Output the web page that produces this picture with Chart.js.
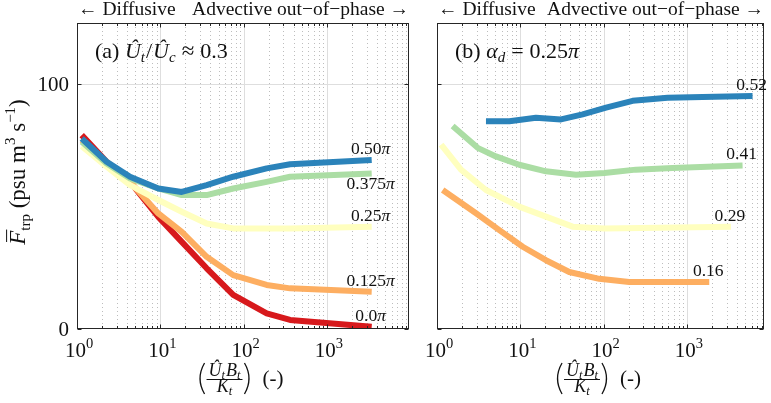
<!DOCTYPE html>
<html><head><meta charset="utf-8">
<script src="https://cdn.jsdelivr.net/npm/chart.js@4"></script>
<style>
html,body{margin:0;padding:0;background:#fff;}
#wrap{position:relative;width:771px;height:403px;background:#fff;}
canvas{position:absolute;left:0;top:0;}
</style></head><body>
<div id="wrap"><canvas id="ca" width="771" height="403"></canvas><canvas id="cb" width="771" height="403"></canvas></div>
<script>
// ---------------- data ----------------
const xDecades = [1, 10, 100, 1000];
const xDecadeExp = ['0', '1', '2', '3'];
const yTicks = [0, 100];

// panel (a): U_t/U_c ~ 0.3, different alpha_d
const xA = [1.14, 2.27, 4.33, 9.46, 18.1, 36, 75, 189, 361, 3445];
const yA_000 = [79.2, 68.3, 60.1, 45.8, 35.6, 24.8, 13.9, 6.4, 3.7, 0.9];
const yA_0125 = [77.1, 68.3, 60.1, 47.2, 39.7, 29.5, 22.0, 18.0, 16.6, 15.2];
const yA_025 = [74.7, 66.3, 58.8, 52.7, 47.9, 43.1, 41.1, 41.1, 41.1, 41.8];
const yA_0375 = [76.5, 67.6, 61.5, 57.4, 54.7, 54.7, 57.4, 60.1, 62.2, 63.5];
const yA_050 = [77.8, 68.3, 62.2, 57.4, 56.0, 58.8, 62.2, 65.6, 67.3, 69.0];
const namesA = ['0.0', '0.125', '0.25', '0.375', '0.50'];

// panel (b): alpha_d = 0.25 pi, different U_t/U_c
const xB_016 = [1.17, 2.94, 5.6, 10.7, 20.3, 38.7, 88.7, 203, 1854];
const yB_016 = [56.8, 47.3, 40.4, 33.6, 28.1, 23.3, 20.5, 19.2, 19.2];
const xB_029 = [1.12, 1.94, 3.87, 9.7, 20.3, 42.5, 102, 3373];
const yB_029 = [75.3, 65.1, 56.8, 50.0, 45.9, 41.8, 41.1, 41.8];
const xB_041 = [1.54, 3.08, 5.1, 9.7, 20.3, 46.6, 102, 244, 673, 4656];
const yB_041 = [82.9, 74.0, 70.5, 67.1, 64.4, 63.0, 63.7, 65.1, 65.8, 66.8];
const xB_052 = [3.87, 7.4, 15.4, 30.8, 56, 107, 223, 586, 1542, 6138];
const yB_052 = [84.9, 84.9, 86.3, 85.6, 87.7, 90.4, 93.2, 94.5, 94.8, 95.2];
const namesB = ['0.16', '0.29', '0.41', '0.52'];

// ---------------- styles ----------------
const C_RED = '#d7191c', C_ORA = '#fdae61', C_YEL = '#ffffbf', C_GRE = '#abdda4', C_BLU = '#2b83ba';
const SERIF = '"Liberation Serif", "Times New Roman", serif';
const AXC = '#262626';

function pts(xs, ys) { return xs.map((x, i) => ({ x: x, y: ys[i] })); }
function ds(xs, ys, color, order, name, italicPi, below) {
  return { data: pts(xs, ys), borderColor: color, backgroundColor: color, order: order,
           fill: false, _name: name, _pi: italicPi, _below: below };
}

function fontOf(s) { return (s.i ? 'italic ' : '') + (s.size || 20) + 'px ' + SERIF; }
function richWidth(ctx, segs) {
  let w = 0;
  for (const s of segs) { ctx.font = fontOf(s); w += ctx.measureText(s.t).width + (s.dx || 0); }
  return w;
}
function drawRich(ctx, segs, x, y, align) {
  const w = richWidth(ctx, segs);
  let cx = align === 'center' ? x - w / 2 : (align === 'right' ? x - w : x);
  ctx.textAlign = 'left';
  ctx.textBaseline = 'alphabetic';
  for (const s of segs) {
    ctx.font = fontOf(s);
    const tw = ctx.measureText(s.t).width;
    cx += (s.dx || 0);
    ctx.fillText(s.t, cx, y + (s.dy || 0));
    if (s.over) {
      const sz = s.size || 20;
      ctx.save(); ctx.lineWidth = 1; ctx.strokeStyle = ctx.fillStyle;
      ctx.beginPath(); ctx.moveTo(cx + sz * 0.12, y - sz * 0.8); ctx.lineTo(cx + tw + sz * 0.05, y - sz * 0.8); ctx.stroke();
      ctx.restore();
    }
    cx += tw;
  }
  return w;
}

function overlay(panel) {
  return {
    id: 'overlay' + panel,
    beforeDatasetsDraw(chart) {
      const ctx = chart.ctx, a = chart.chartArea, xs = chart.scales.x, ys = chart.scales.y;
      ctx.save();
      // minor dotted grid
      ctx.strokeStyle = '#bdbdbd'; ctx.lineWidth = 1; ctx.setLineDash([1, 3]);
      for (const d of xDecades) {
        for (let m = 2; m <= 9; m++) {
          const v = d * m; if (v > xs.max) continue;
          const px = Math.round(xs.getPixelForValue(v)) + 0.5;
          ctx.beginPath(); ctx.moveTo(px, a.top); ctx.lineTo(px, a.bottom); ctx.stroke();
        }
      }
      ctx.setLineDash([]);
      ctx.strokeStyle = '#dedede';
      for (const d of xDecades) {
        if (d <= xs.min) continue;
        const px = Math.round(xs.getPixelForValue(d)) + 0.5;
        ctx.beginPath(); ctx.moveTo(px, a.top); ctx.lineTo(px, a.bottom); ctx.stroke();
      }
      for (const t of yTicks) {
        if (t <= ys.min) continue;
        const py = Math.round(ys.getPixelForValue(t)) + 0.5;
        ctx.beginPath(); ctx.moveTo(a.left, py); ctx.lineTo(a.right, py); ctx.stroke();
      }
      ctx.restore();
    },
    afterDatasetsDraw(chart) {
      const ctx = chart.ctx, a = chart.chartArea, xs = chart.scales.x, ys = chart.scales.y;
      ctx.save();
      // box
      ctx.strokeStyle = AXC; ctx.lineWidth = 1;
      const L = Math.round(a.left) + 0.5, R = Math.round(a.right) - 0.5, T = Math.round(a.top) + 0.5, B = Math.round(a.bottom) - 0.5;
      ctx.strokeRect(L, T, R - L, B - T);
      // ticks (inward)
      ctx.beginPath();
      for (const d of xDecades) {
        for (let m = 1; m <= 9; m++) {
          const v = d * m; if (v > xs.max) continue;
          const px = Math.round(xs.getPixelForValue(v)) + 0.5;
          const len = m === 1 ? 4 : 2.5;
          ctx.moveTo(px, B); ctx.lineTo(px, B - len);
          ctx.moveTo(px, T); ctx.lineTo(px, T + len);
        }
      }
      for (const t of yTicks) {
        const py = Math.round(ys.getPixelForValue(t)) + 0.5;
        ctx.moveTo(L, py); ctx.lineTo(L + 4, py);
        ctx.moveTo(R, py); ctx.lineTo(R - 4, py);
      }
      ctx.stroke();

      ctx.fillStyle = '#111';
      // x tick labels 10^k
      xDecades.forEach((d, i) => {
        const px = xs.getPixelForValue(d);
        drawRich(ctx, [{ t: '10', size: 21 }, { t: xDecadeExp[i], size: 14.5, dy: -9 }], px + 2, 357, 'center');
      });
      // y tick labels (panel a only)
      if (panel === 'a') {
        ctx.font = '21px ' + SERIF; ctx.textAlign = 'right'; ctx.textBaseline = 'middle';
        for (const t of yTicks) {
          ctx.fillText(String(t), a.left - 8, ys.getPixelForValue(t) + 1);
        }
      }

      // top annotation
      ctx.font = '19.5px ' + SERIF; ctx.textBaseline = 'alphabetic';
      ctx.textAlign = 'left'; ctx.fillText('\u2190 Diffusive', a.left + 1, 15);
      ctx.textAlign = 'right'; ctx.fillText('Advective out\u2212of\u2212phase \u2192', a.right, 15);

      // panel title
      if (panel === 'a') {
        drawRich(ctx, [{ t: '(a) ', size: 22 }, { t: '\u00DB', i: true, size: 22 }, { t: 't', i: true, size: 15, dy: 4 },
          { t: '/', size: 22, dx: 1 }, { t: '\u00DB', i: true, size: 22, dx: 1 }, { t: 'c', i: true, size: 15, dy: 4 },
          { t: '\u2248', size: 23, dx: 6 }, { t: '0.3', size: 22, dx: 6 }], a.left + 18, 58, 'left');
      } else {
        drawRich(ctx, [{ t: '(b) ', size: 22 }, { t: '\u03B1', i: true, size: 22 }, { t: 'd', i: true, size: 15, dy: 4 },
          { t: '=', size: 22, dx: 6 }, { t: '0.25', size: 22, dx: 6 }, { t: '\u03C0', i: true, size: 22 }], a.left + 18, 58, 'left');
      }

      // series end labels
      chart.data.datasets.forEach((dset) => {
        const last = dset.data[dset.data.length - 1];
        const px = xs.getPixelForValue(last.x), py = ys.getPixelForValue(last.y);
        const segs = [{ t: dset._name, size: 17.5 }];
        if (dset._pi) segs.push({ t: '\u03C0', i: true, size: 17.5 });
        drawRich(ctx, segs, px - 1, py + (dset._below ? 15.5 : -6), 'center');
      });

      // x axis title: (U_t B_t / K_t) (-)
      {
        const cxAxis = (a.left + a.right) / 2 - 3;
        const num = [{ t: '\u00DB', i: true, size: 18 }, { t: 't', i: true, size: 12.5, dy: 3 }, { t: 'B', i: true, size: 18, dx: 1 }, { t: 't', i: true, size: 12.5, dy: 3 }];
        const den = [{ t: 'K', i: true, size: 18 }, { t: 't', i: true, size: 12.5, dy: 3 }];
        const nw = richWidth(ctx, num), dw = richWidth(ctx, den);
        const fw = Math.max(nw, dw) + 4;
        ctx.font = '21px ' + SERIF; const tail = '(-)'; const tw = ctx.measureText(tail).width;
        const pw = 8;
        const total = pw + 2 + fw + 2 + pw + 10 + tw;
        let x0 = cxAxis - total / 2;
        ctx.save(); ctx.strokeStyle = '#111'; ctx.lineWidth = 1.3;
        const yt = 363, yb = 394;
        ctx.beginPath(); ctx.moveTo(x0 + pw, yt); ctx.quadraticCurveTo(x0 - 1, (yt + yb) / 2, x0 + pw, yb); ctx.stroke();
        const xr = x0 + pw + 2 + fw + 2;
        ctx.beginPath(); ctx.moveTo(xr, yt); ctx.quadraticCurveTo(xr + pw + 1, (yt + yb) / 2, xr, yb); ctx.stroke();
        ctx.restore();
        const fx = x0 + pw + 2;
        drawRich(ctx, num, fx + fw / 2, 376, 'center');
        ctx.fillRect(fx, 379, fw, 1);
        drawRich(ctx, den, fx + fw / 2, 392, 'center');
        ctx.font = '21px ' + SERIF; ctx.textAlign = 'left'; ctx.textBaseline = 'alphabetic';
        ctx.fillText(tail, xr + pw + 10, 385);
      }

      // y axis title (only on panel a)
      if (panel === 'a') {
        ctx.save();
        ctx.translate(25, 172); ctx.rotate(-Math.PI / 2);
        drawRich(ctx, [{ t: 'F', i: true, size: 23, over: true }, { t: 'trp', size: 15, dy: 5 },
          { t: ' (psu m', size: 23 }, { t: '3', size: 15, dy: -10 }, { t: ' s', size: 23 },
          { t: '\u22121', size: 15, dy: -10 }, { t: ')', size: 23 }], 0, 0, 'center');
        ctx.restore();
      }
      ctx.restore();
    }
  };
}

function makeChart(id, datasets, xmax, padL, padR, panel) {
  return new Chart(document.getElementById(id), {
    type: 'line',
    data: { datasets: datasets },
    options: {
      responsive: false, animation: false, devicePixelRatio: 1,
      layout: { padding: { left: padL, right: padR, top: 23, bottom: 74 } },
      plugins: { legend: { display: false }, tooltip: { enabled: false } },
      elements: { point: { radius: 0 }, line: { borderWidth: 6, tension: 0, borderCapStyle: 'butt', borderJoinStyle: 'round' } },
      scales: {
        x: { type: 'logarithmic', min: 1, max: xmax, grid: { display: false }, border: { display: false },
             ticks: { display: false }, afterFit(s) { s.height = 0; } },
        y: { type: 'linear', min: 0, max: 125, grid: { display: false }, border: { display: false },
             ticks: { display: false }, afterFit(s) { s.width = 0; } }
      }
    },
    plugins: [overlay(panel)]
  });
}

makeChart('ca', [
  ds(xA, yA_050, C_BLU, 1, namesA[4], true, false),
  ds(xA, yA_0375, C_GRE, 2, namesA[3], true, true),
  ds(xA, yA_025, C_YEL, 3, namesA[2], true, false),
  ds(xA, yA_0125, C_ORA, 4, namesA[1], true, false),
  ds(xA, yA_000, C_RED, 5, namesA[0], true, false)
], 9660, 77, 362, 'a');

makeChart('cb', [
  ds(xB_052, yB_052, C_BLU, 1, namesB[3], false, false),
  ds(xB_041, yB_041, C_GRE, 2, namesB[2], false, false),
  ds(xB_029, yB_029, C_YEL, 3, namesB[1], false, false),
  ds(xB_016, yB_016, C_ORA, 4, namesB[0], false, false)
], 8420, 437, 7, 'b');
</script>
</body></html>
